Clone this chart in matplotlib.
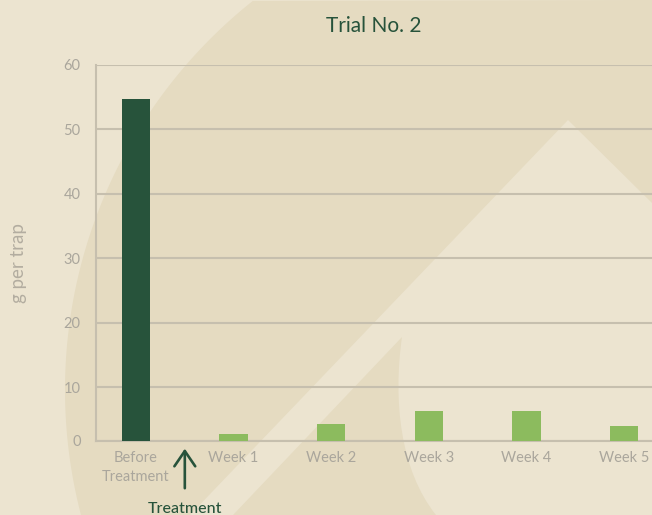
import numpy as np
import matplotlib
matplotlib.use('Agg')
import matplotlib.pyplot as plt
from matplotlib.path import Path
from matplotlib.patches import PathPatch

categories = ['Before\nTreatment', 'Week 1', 'Week 2', 'Week 3', 'Week 4', 'Week 5']
values = [54.8, 2.8, 4.4, 6.4, 6.4, 4.1]
bar_colors = ['#27533b', '#8cbb5e', '#8cbb5e', '#8cbb5e', '#8cbb5e', '#8cbb5e']
ytick_vals = [1.7, 10, 20, 30, 40, 50, 60]
ytick_labels = ['0', '10', '20', '30', '40', '50', '60']

W, H = 652, 515
LIGHT = '#ece4d0'
DARK = '#e5dbc1'
GRID = '#c6bfae'
TICK = '#aaa69c'
GREEN = '#27533b'

plt.rcParams['font.family'] = ['Lato', 'DejaVu Sans']

fig = plt.figure(figsize=(W / 100, H / 100), dpi=100, facecolor=LIGHT)


def px(pts):
    # pixel coords (origin top-left) -> figure fraction
    return [(x / W, 1 - y / H) for x, y in pts]


# --- background decoration -------------------------------------------------
cx, cy, r = 562, 390, 497
a0 = np.arctan2(0 - cy, 252 - cx)
a1 = np.arctan2(515 - cy, 82 - cx)
ang = np.linspace(a0 % (2 * np.pi), a1 % (2 * np.pi), 80)
arc = [(cx + r * np.cos(t), cy + r * np.sin(t)) for t in ang]
main = arc + [(190, 515), (568, 120), (652, 203), (652, 0)]
verts = px(main) + [px(main)[0]]
codes = [Path.MOVETO] + [Path.LINETO] * (len(main) - 1) + [Path.CLOSEPOLY]
fig.add_artist(PathPatch(Path(verts, codes), transform=fig.transFigure,
                         facecolor=DARK, edgecolor='none', zorder=-5))

wedge = [(402, 337), (233, 515), (436, 515), (400, 470), (393, 400), (402, 337)]
wcodes = [Path.MOVETO, Path.LINETO, Path.LINETO, Path.CURVE4, Path.CURVE4, Path.CURVE4]
fig.add_artist(PathPatch(Path(px(wedge), wcodes), transform=fig.transFigure,
                         facecolor=DARK, edgecolor='none', zorder=-5))

# --- chart -----------------------------------------------------------------
ax = fig.add_axes([96 / W, 1 - 441 / H, 1 - 96 / W, (441 - 65) / H])
ax.set_facecolor('none')

x = np.arange(len(categories))
ax.bar(x, values, width=0.29, color=bar_colors, zorder=3)

ax.set_xlim(-0.41, 5.287)
ax.set_ylim(1.7, 60)
ax.set_yticks(ytick_vals)
ax.set_yticklabels(ytick_labels)
ax.set_xticks(x)
ax.set_xticklabels(categories, linespacing=1.45)

ax.grid(axis='y', color=GRID, linewidth=1.5, zorder=1)
ax.set_axisbelow(True)
for s in ['top', 'right']:
    ax.spines[s].set_visible(False)
for s in ['left', 'bottom']:
    ax.spines[s].set_color(GRID)
    ax.spines[s].set_linewidth(1.5)
ax.tick_params(length=0, labelsize=10.5, labelcolor=TICK)
ax.tick_params(axis='y', pad=11)
ax.tick_params(axis='x', pad=7)

ax.set_ylabel('g per trap', fontsize=13.5, color='#b3ada0')
ax.yaxis.set_label_coords(-0.124, 0.473)
ax.set_title('Trial No. 2', fontsize=15, color=GREEN, pad=24)

# treatment marker between the first two categories
tr = ax.get_xaxis_transform()
ax.annotate('', xy=(0.5, -0.013), xytext=(0.5, -0.133), xycoords=tr, textcoords=tr,
            annotation_clip=False,
            arrowprops=dict(arrowstyle='->,head_length=1.1,head_width=0.75',
                            color=GREEN, lw=1.9))
ax.text(0.5, -0.18, 'Treatment', transform=tr, ha='center', va='center',
        fontsize=11.5, color=GREEN, fontweight='medium', clip_on=False)

fig.savefig('out.png', dpi=100, facecolor=LIGHT)
